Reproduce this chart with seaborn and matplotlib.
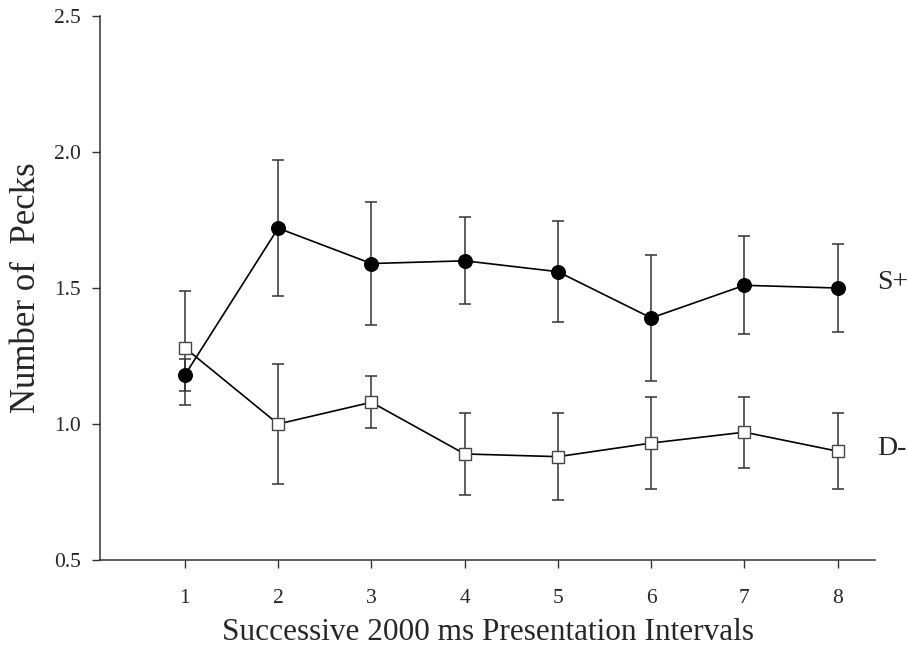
import numpy as np
import pandas as pd
import matplotlib
matplotlib.use("Agg")
import matplotlib.pyplot as plt
import seaborn as sns

# data
intervals = [1, 2, 3, 4, 5, 6, 7, 8]
s_plus = [1.18, 1.72, 1.59, 1.60, 1.56, 1.39, 1.51, 1.50]
s_plus_err = [0.06, 0.25, 0.225, 0.16, 0.185, 0.23, 0.18, 0.16]
d_minus = [1.28, 1.00, 1.08, 0.89, 0.88, 0.93, 0.97, 0.90]
d_minus_err = [0.21, 0.22, 0.095, 0.15, 0.16, 0.17, 0.13, 0.14]
y_ticks = [0.5, 1.0, 1.5, 2.0, 2.5]

df = pd.DataFrame({"interval": intervals, "S+": s_plus, "D-": d_minus})

sns.set_style("ticks")
plt.rcParams["font.family"] = ["Liberation Serif", "DejaVu Serif"]

fig = plt.figure(figsize=(9.07, 6.56), dpi=100)
ax = fig.add_axes([0.1103, 0.1463, 0.9647 - 0.1103, 0.9756 - 0.1463])

# error bars first so markers sit on top
ax.errorbar(intervals, s_plus, yerr=s_plus_err, fmt="none", ecolor="#333333",
            elinewidth=1.1, capsize=4, capthick=1.1, zorder=1)
ax.errorbar(intervals, d_minus, yerr=d_minus_err, fmt="none", ecolor="#333333",
            elinewidth=1.1, capsize=4, capthick=1.1, zorder=1)

sns.lineplot(data=df, x="interval", y="S+", ax=ax, color="black", linewidth=1.2,
             marker="o", markersize=10, markerfacecolor="black",
             markeredgecolor="black", zorder=3)
sns.lineplot(data=df, x="interval", y="D-", ax=ax, color="black", linewidth=1.2,
             marker="s", markersize=8.5, markerfacecolor="white",
             markeredgecolor="#444444", markeredgewidth=1.0, zorder=3)

ax.text(8.42, s_plus[-1] + 0.02, "S+", fontsize=20, va="center", ha="left", clip_on=False)
ax.text(8.42, d_minus[-1] + 0.01, "D-", fontsize=20, va="center", ha="left", clip_on=False)

ax.set_xlim(0.09, 8.4)
ax.set_ylim(0.5, 2.5)
ax.set_xticks(intervals)
ax.set_yticks(y_ticks)
ax.set_yticklabels([f"{v:.1f}" for v in y_ticks])

ax.tick_params(axis="x", direction="out", length=6, width=1, pad=15,
               labelsize=15.5, color="#333333")
ax.tick_params(axis="y", direction="out", length=6, width=1, pad=8,
               labelsize=15.5, color="#333333")

ax.set_xlabel("Successive 2000 ms Presentation Intervals", fontsize=22.5, labelpad=7)
ax.set_ylabel("Number of  Pecks", fontsize=25, labelpad=8)

sns.despine(ax=ax)
for s in ["left", "bottom"]:
    ax.spines[s].set_color("#333333")
    ax.spines[s].set_linewidth(1.1)

fig.savefig("out.png", dpi=100)
